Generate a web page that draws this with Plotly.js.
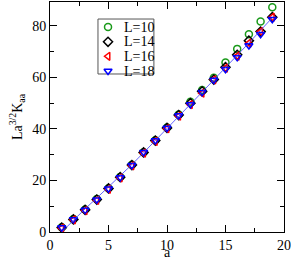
<!DOCTYPE html>
<html>
<head>
<meta charset="utf-8">
<script src="https://cdn.plot.ly/plotly-3.0.1.min.js"></script>
<style>html,body{margin:0;padding:0;background:#fff;}#chart{width:291px;height:259px;}</style>
</head>
<body>
<div id="chart"></div>
<script>
const aValues = [1,2,3,4,5,6,7,8,9,10,11,12,13,14,15,16,17,18,19];
const L10 = [1.8,5.0,8.7,12.8,17.0,21.4,26.1,31.0,35.6,40.6,45.6,50.6,55.1,59.9,65.8,71.1,76.8,81.7,87.3];
const L14 = [1.7,4.9,8.6,12.6,16.9,21.3,26.0,30.9,35.5,40.4,45.4,50.0,54.6,59.2,64.0,68.8,74.3,77.8,83.4];
const L16 = [1.5,4.7,8.3,12.3,16.6,21.0,25.7,30.6,35.2,40.1,45.0,49.5,53.9,59.1,63.6,68.3,73.3,77.8,83.4];
const L18 = [1.7,4.9,8.5,12.5,16.8,21.2,25.9,31.0,35.5,40.4,45.2,49.5,54.3,59.0,63.2,67.8,72.4,76.8,82.6];
const fitLine = [0,4.7,9.0,13.2,17.4,21.8,26.2,30.8,35.4,40.1,44.9,49.6,54.3,59.0,63.8,68.6,73.4,78.3,83.2];
const seriesNames = ["L=10","L=14","L=16","L=18"];
const seriesColors = ['#1a9a1a', '#000000', '#ff0000', '#0000ff'];
const seriesSymbols = ['circle-open', 'diamond-open', 'triangle-left-open', 'triangle-down-open'];
const seriesData = [L10, L14, L16, L18];

const traces = seriesData.map((y, i) => ({
  x: aValues, y: y, name: seriesNames[i], type: 'scatter', mode: 'markers', showlegend: false,
  marker: {symbol: seriesSymbols[i], size: 7, color: seriesColors[i], line: {color: seriesColors[i], width: 1.5}}
}));
traces.push({x: aValues, y: fitLine, type: 'scatter', mode: 'lines', showlegend: false,
   line: {color: 'rgba(60,60,255,0.8)', width: 1}});

// legend key, drawn on a hidden overlay axis (fractions of the plot area)
const legLeft = 0.205, legRight = 0.444, legBottom = 0.687, legTop = 0.926;
const keyX = 0.248, textX = 0.308;
const rowY = [0.891, 0.827, 0.764, 0.700];
traces.push({x: [legLeft, legRight, legRight, legLeft, legLeft], y: [legBottom, legBottom, legTop, legTop, legBottom],
  xaxis: 'x2', yaxis: 'y2', type: 'scatter', mode: 'lines', showlegend: false, hoverinfo: 'skip',
  line: {color: '#555555', width: 1}});
seriesNames.forEach((nm, i) => {
  traces.push({x: [keyX], y: [rowY[i]], xaxis: 'x2', yaxis: 'y2', type: 'scatter', mode: 'markers',
    showlegend: false, hoverinfo: 'skip',
    marker: {symbol: seriesSymbols[i], size: 7, color: seriesColors[i], line: {color: seriesColors[i], width: 1.5}}});
});

const fam = '"Times New Roman", "Liberation Serif", serif';
const fnt = {family: fam, size: 14, color: '#000'};
const axBase = {
  showgrid: false, zeroline: false, showline: true, linecolor: '#000', linewidth: 1,
  mirror: 'ticks', ticks: 'inside', ticklen: 7, tickcolor: '#000', tickwidth: 1,
  tickfont: fnt, automargin: false
};

const annotations = [
  {xref: 'paper', yref: 'paper', x: 0.5, y: 0, yshift: -11, text: 'a', showarrow: false,
   font: fnt, xanchor: 'center', yanchor: 'top'}
];
seriesNames.forEach((nm, i) => {
  annotations.push({xref: 'paper', yref: 'paper', x: textX, y: rowY[i], text: nm,
    showarrow: false, xanchor: 'left', yanchor: 'middle', font: fnt});
});

const layout = {
  width: 291, height: 259,
  margin: {l: 50, r: 7, t: 2, b: 27},
  paper_bgcolor: '#fff', plot_bgcolor: '#fff',
  font: fnt,
  showlegend: false,
  xaxis: Object.assign({}, axBase, {range: [0, 20], dtick: 5, tick0: 0,
           minor: {ticks: 'inside', ticklen: 4, tickcolor: '#000', dtick: 2.5}}),
  yaxis: Object.assign({}, axBase, {range: [0, 89.3], dtick: 20, tick0: 0,
           minor: {ticks: 'inside', ticklen: 4, tickcolor: '#000', dtick: 10},
           title: {text: 'La<sup>3/2</sup>K<sub>aa</sub>', font: fnt, standoff: 6}}),
  xaxis2: {overlaying: 'x', anchor: 'y2', range: [0, 1], visible: false, fixedrange: true},
  yaxis2: {overlaying: 'y', anchor: 'x2', range: [0, 1], visible: false, fixedrange: true},
  annotations: annotations
};
Plotly.newPlot('chart', traces, layout, {displayModeBar: false, staticPlot: true});
</script>
</body>
</html>
